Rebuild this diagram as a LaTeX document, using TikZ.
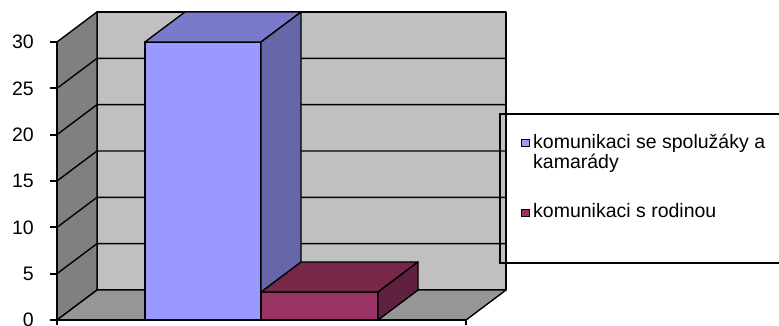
\documentclass[tikz,border=0pt]{standalone}
\usepackage{fontspec}
\setmainfont{Liberation Sans}
\usetikzlibrary{arrows}
\definecolor{backwall}{HTML}{C0C0C0}
\definecolor{sidewall}{HTML}{808080}
\definecolor{floorgray}{HTML}{969696}
\definecolor{bluefront}{HTML}{9999FF}
\definecolor{bluetop}{HTML}{7A7ACC}
\definecolor{blueside}{HTML}{6666A8}
\definecolor{redfront}{HTML}{993366}
\definecolor{redtop}{HTML}{772849}
\definecolor{redside}{HTML}{602040}
\tikzset{
  {wall/.style} ={draw=black,line width=1.4pt,line join=round},
  {gridline/.style} ={draw=black,line width=1.4pt},
  {axisline/.style} ={draw=black,line width=2pt},
  {barface/.style} ={draw=black,line width=1.4pt,line join=round,fill=#1},
  {axislabel/.style} ={anchor=east,inner sep=0,
                  font=\fontsize{19.5}{20.5}\selectfont},
  {legendbox/.style} ={draw=black,line width=1.5pt},
  {keybox/.style} ={rectangle,draw=black,line width=1.5pt,fill=#1,
                  inner sep=0,minimum width=8pt,minimum height=7pt},
  {legendtext/.style} ={anchor=base west,inner sep=0,align=left,
                  font=\fontsize{19.5}{20.5}\selectfont},
}
\begin{document}
\begin{tikzpicture}[x=1pt,y=-1pt]
    \useasboundingbox (0,0) rectangle (779,326);
    % walls and floor
    \draw[wall,fill=backwall] (97,12) rectangle (506,290);
    \draw[wall,fill=sidewall] (57,42) -- (97,12) -- (97,290) -- (57,320) -- cycle;
    \draw[wall,fill=floorgray] (57,320) -- (97,290) -- (506,290) -- (466,320) -- cycle;
    \foreach \k in {1,...,5}
      \draw[gridline] (57,{42+\k*46.33}) -- (97,{12+\k*46.33}) -- (506,{12+\k*46.33});
    % axes
    \draw[axisline] (57,42) -- (57,320) -- (466,320);
    \draw[axisline] (57,320) -- (57,325);
    \draw[axisline] (466,320) -- (466,325);
    \foreach \v in {0,5,...,30} {
      \draw[axisline] (50,{320-\v*9.267}) -- (57,{320-\v*9.267});
      \node[axislabel] (y\v) at (34,{320-\v*9.267}) {\v};
    }
    % bar 1
    \draw[barface=bluefront] (145,42) rectangle (261,320);
    \draw[barface=bluetop] (145,42) -- (185,12) -- (301,12) -- (261,42) -- cycle;
    \draw[barface=blueside] (261,42) -- (301,12) -- (301,290) -- (261,320) -- cycle;
    % bar 2
    \draw[barface=redfront] (261,292) rectangle (378,320);
    \draw[barface=redtop] (261,292) -- (301,262) -- (418,262) -- (378,292) -- cycle;
    \draw[barface=redside] (378,292) -- (418,262) -- (418,290) -- (378,320) -- cycle;
    % legend
    \draw[legendbox] (500,114) rectangle (784,263);
    \node[keybox=bluefront] (key1) at (525.5,143) {};
    \node[legendtext] (txt1) at (533,168.5) {komunikaci se spolužáky a\\kamarády};
    \node[keybox=redfront] (key2) at (525.5,213) {};
    \node[legendtext] (txt2) at (533,217.5) {komunikaci s rodinou};
\end{tikzpicture}
\end{document}
